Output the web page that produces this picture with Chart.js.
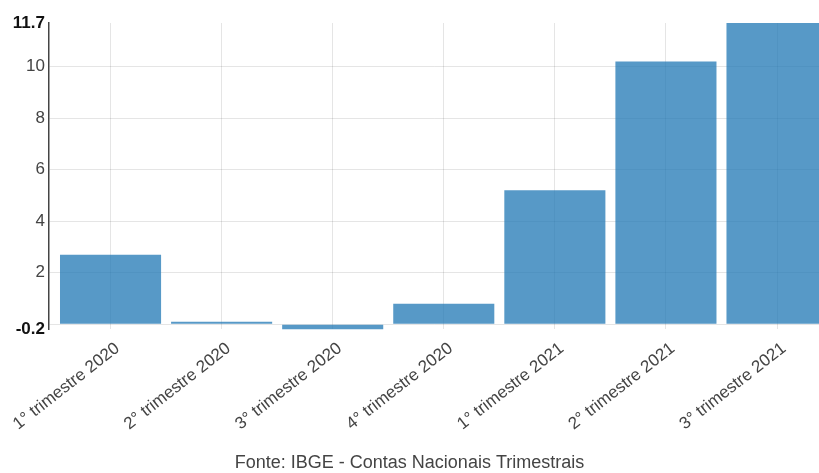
<!DOCTYPE html>
<html lang="pt-BR">
<head>
  <meta charset="UTF-8" />
  <title>Variação por trimestre</title>
  <script src="https://cdn.jsdelivr.net/npm/chart.js@4.4.0/dist/chart.umd.min.js"></script>
  <style>
    html, body {
      margin: 0;
      padding: 0;
      background: #fff;
      overflow: hidden;
    }
    #chart-container {
      position: relative;
      width: 819px;
      height: 473px;
    }
  </style>
</head>
<body>

  <div id="chart-container">
    <canvas id="quarterChart"></canvas>
  </div>

  <script>
    // === Data ===
    const quarters = [
      '1° trimestre 2020', '2° trimestre 2020', '3° trimestre 2020', '4° trimestre 2020',
      '1° trimestre 2021', '2° trimestre 2021', '3° trimestre 2021'
    ];
    const values = [2.7, 0.1, -0.2, 0.8, 5.2, 10.2, 11.7];
    const yTicks = [-0.2, 0, 2, 4, 6, 8, 10, 11.7];
    const yBoldTicks = [-0.2, 11.7];
    const yHiddenLabels = [0];
    const sourceText = 'Fonte: IBGE - Contas Nacionais Trimestrais';

    const fontFamily = 'Arial, "Liberation Sans", sans-serif';

    // bars sit on a numeric x scale so the first slot can start a little right of the y axis
    const barData = quarters.map((q, i) => ({ x: i, y: values[i] }));

    const isBold = ctx => !!(ctx && ctx.tick && yBoldTicks.includes(ctx.tick.value));

    new Chart(document.getElementById('quarterChart'), {
      type: 'bar',
      data: {
        datasets: [{
          data: barData,
          backgroundColor: 'rgba(31, 119, 180, 0.75)',
          borderWidth: 0,
          categoryPercentage: 1,
          barPercentage: 0.91
        }]
      },
      options: {
        responsive: true,
        maintainAspectRatio: false,
        animation: false,
        layout: {
          padding: { top: 23, left: 0, right: 0, bottom: 0 }
        },
        plugins: {
          legend: { display: false },
          tooltip: { enabled: false },
          title: {
            display: true,
            position: 'bottom',
            text: sourceText,
            color: '#444',
            font: { family: fontFamily, size: 18, weight: 'normal', lineHeight: 1 },
            padding: { top: 0, bottom: 1 }
          }
        },
        scales: {
          x: {
            type: 'linear',
            offset: false,
            min: -0.554,
            max: 6.378,
            border: { display: false },
            grid: {
              offset: false,
              color: 'rgba(0, 0, 0, 0.1)',
              drawTicks: false
            },
            ticks: {
              stepSize: 1,
              autoSkip: false,
              minRotation: 38,
              maxRotation: 38,
              padding: 9,
              labelOffset: 7,
              color: '#444',
              font: { family: fontFamily, size: 17 },
              callback: value => quarters[value] || ''
            },
            afterBuildTicks: axis => {
              axis.ticks = axis.ticks.filter(t => Number.isInteger(t.value));
            },
            afterFit: axis => {
              axis.height = 124.6;
              axis.paddingLeft = 0;
              axis.paddingRight = 0;
            }
          },
          y: {
            min: -0.2,
            max: 11.7,
            border: { display: true, color: '#444', width: 1.5 },
            grid: {
              drawTicks: false,
              color: ctx => isBold(ctx) ? 'rgba(0,0,0,0)' : 'rgba(0, 0, 0, 0.1)'
            },
            ticks: {
              padding: 4,
              autoSkip: false,
              color: ctx => isBold(ctx) ? '#111' : '#444',
              font: ctx => ({
                family: fontFamily,
                size: 17,
                weight: isBold(ctx) ? 'bold' : 'normal'
              }),
              callback: value => yHiddenLabels.includes(value) ? '' : String(value)
            },
            afterBuildTicks: axis => {
              axis.ticks = yTicks.map(v => ({ value: v }));
            },
            afterFit: axis => {
              axis.width = 49;
              axis.paddingTop = 0;
              axis.paddingBottom = 0;
            }
          }
        }
      }
    });
  </script>
</body>
</html>
